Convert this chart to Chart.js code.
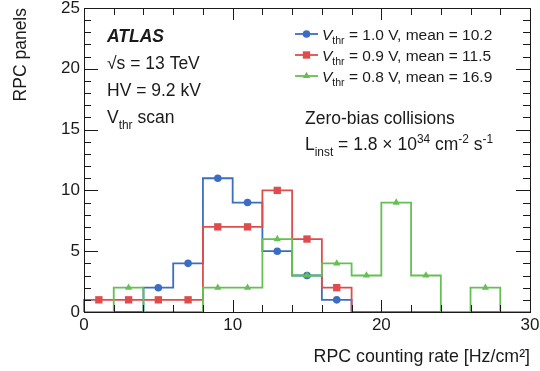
<!DOCTYPE html>
<html>
<head>
<meta charset="utf-8">
<script src="https://cdn.jsdelivr.net/npm/chart.js@4.4.1/dist/chart.umd.min.js"></script>
<style>
  html, body { margin: 0; background: #fff; }
  #wrap { width: 540px; height: 371px; position: relative; }
</style>
</head>
<body>
<div id="wrap"><canvas id="rate"></canvas></div>
<script>
// histogram bins (Hz/cm2), width 2
const binEdges   = [0, 2, 4, 6, 8, 10, 12, 14, 16, 18, 20, 22, 24, 26, 28, 30];
const binCenters = [1, 3, 5, 7, 9, 11, 13, 15, 17, 19, 21, 23, 25, 27, 29];

// RPC panels per bin
const counts10 = [0, 0, 2, 4, 11, 9, 5, 3, 1, 0, 0, 0, 0, 0, 0];   // Vthr = 1.0 V
const counts09 = [1, 1, 1, 1, 7, 7, 10, 6, 2, 0, 0, 0, 0, 0, 0];   // Vthr = 0.9 V
const counts08 = [0, 2, 0, 0, 2, 2, 6, 3, 4, 3, 9, 3, 0, 2, 0];    // Vthr = 0.8 V

const seriesVolts  = ['1.0', '0.9', '0.8'];
const seriesMeans  = ['10.2', '11.5', '16.9'];
const seriesColors = ['#3b6ec2', '#de4d4d', '#64c052'];
const seriesShapes = ['circle', 'rect', 'triangle'];
const seriesSizes  = [3.8, 5.2, 4.2];

const FONT = '"Liberation Sans", Arial, Helvetica, sans-serif';
const INK = '#1a1a1a';

function stepPoints(counts) {
  const pts = [{ x: binEdges[0], y: 0 }];
  counts.forEach((c, i) => pts.push({ x: binEdges[i], y: c }));
  const last = binEdges[binEdges.length - 1];
  pts.push({ x: last, y: counts[counts.length - 1] });
  pts.push({ x: last, y: 0 });
  return pts;
}

function markerPoints(counts) {
  return binCenters.map((x, i) => ({ x, y: counts[i] > 0 ? counts[i] : null }));
}

const allCounts = [counts10, counts09, counts08];
const datasets = [];
allCounts.forEach((counts, k) => {
  // lower order = drawn on top; green on top, blue at the bottom
  const ord = 2 - k;
  datasets.push({
    type: 'line', data: stepPoints(counts), stepped: true,
    borderColor: seriesColors[k], borderWidth: 1.8, pointRadius: 0,
    fill: false, clip: false, order: ord,
  });
  datasets.push({
    type: 'scatter', data: markerPoints(counts), showLine: false,
    pointStyle: seriesShapes[k], pointRadius: seriesSizes[k],
    backgroundColor: seriesColors[k], borderColor: seriesColors[k], borderWidth: 0,
    clip: false, order: ord,
  });
});

function richText(ctx, x, y, parts, size) {
  let cx = x;
  for (const [t, kind] of parts) {
    let fs = size, dy = 0, style = '';
    if (kind === 'sub') { fs = size * 0.68; dy = size * 0.32; }
    if (kind === 'sup') { fs = size * 0.68; dy = -size * 0.42; }
    if (kind === 'i') style = 'italic ';
    if (kind === 'bi') style = 'italic bold ';
    ctx.font = style + fs + 'px ' + FONT;
    ctx.fillText(t, cx, y + dy);
    cx += ctx.measureText(t).width;
  }
}

function drawMarker(ctx, shape, x, y, r, color) {
  ctx.fillStyle = color;
  ctx.beginPath();
  if (shape === 'circle') ctx.arc(x, y, r, 0, Math.PI * 2);
  else if (shape === 'rect') { const s = r * Math.SQRT1_2; ctx.rect(x - s, y - s, 2 * s, 2 * s); }
  else {
    ctx.moveTo(x, y - r);
    ctx.lineTo(x + r * 0.866, y + r * 0.5);
    ctx.lineTo(x - r * 0.866, y + r * 0.5);
    ctx.closePath();
  }
  ctx.fill();
}

// frame with inward ticks on all four sides, ROOT style
const framePlugin = {
  id: 'frame',
  afterDatasetsDraw(chart) {
    const { ctx, chartArea: a, scales: { x, y } } = chart;
    ctx.save();
    ctx.strokeStyle = INK;
    ctx.lineWidth = 1;
    ctx.strokeRect(a.left + 0.5, a.top + 0.5, a.right - a.left, a.bottom - a.top);
    ctx.beginPath();
    for (let v = 0; v <= 25; v++) {
      const py = Math.round(y.getPixelForValue(v)) + 0.5;
      const len = v % 5 === 0 ? 14 : 7;
      ctx.moveTo(a.left, py); ctx.lineTo(a.left + len, py);
      ctx.moveTo(a.right, py); ctx.lineTo(a.right - len, py);
    }
    for (let v = 0; v <= 30; v += 2) {
      const px = Math.round(x.getPixelForValue(v)) + 0.5;
      const len = v % 10 === 0 ? 12 : 7;
      ctx.moveTo(px, a.bottom); ctx.lineTo(px, a.bottom - len);
      ctx.moveTo(px, a.top); ctx.lineTo(px, a.top + len);
    }
    ctx.stroke();
    ctx.restore();
  },
  afterDraw(chart) {
    const { ctx, chartArea: a } = chart;
    ctx.save();
    ctx.fillStyle = INK;
    ctx.textBaseline = 'alphabetic';
    const L = a.left;
    const fs = 17.5;
    richText(ctx, L + 23, a.top + 34, [['ATLAS', 'bi']], fs);
    richText(ctx, L + 23, a.top + 61, [['\u221As = 13 TeV', '']], fs);
    richText(ctx, L + 23, a.top + 88, [['HV = 9.2 kV', '']], fs);
    richText(ctx, L + 23, a.top + 115, [['V', ''], ['thr', 'sub'], [' scan', '']], fs);

    richText(ctx, L + 221, a.top + 116, [['Zero-bias collisions', '']], fs);
    richText(ctx, L + 221, a.top + 142, [['L', ''], ['inst', 'sub'], [' = 1.8 \u00D7 10', ''],
      ['34', 'sup'], [' cm', ''], ['-2', 'sup'], [' s', ''], ['-1', 'sup']], fs);

    // legend
    for (let k = 0; k < 3; k++) {
      const cy = a.top + 26 + k * 21;
      ctx.strokeStyle = seriesColors[k];
      ctx.lineWidth = 1.8;
      ctx.beginPath();
      ctx.moveTo(L + 211, cy); ctx.lineTo(L + 234, cy);
      ctx.stroke();
      drawMarker(ctx, seriesShapes[k], L + 222.5, cy, seriesSizes[k], seriesColors[k]);
      ctx.fillStyle = INK;
      richText(ctx, L + 238, cy + 5.5, [['V', 'i'], ['thr', 'sub'],
        [' = ' + seriesVolts[k] + ' V, mean = ' + seriesMeans[k], '']], 15.5);
    }
    ctx.restore();
  },
};

new Chart(document.getElementById('rate'), {
  data: { datasets },
  plugins: [framePlugin],
  options: {
    responsive: true,
    maintainAspectRatio: false,
    animation: false,
    layout: { padding: { top: 8, right: 10, left: 0, bottom: 0 } },
    plugins: { legend: { display: false }, tooltip: { enabled: false } },
    scales: {
      x: {
        type: 'linear', min: 0, max: 30,
        ticks: { stepSize: 10, color: INK, padding: 3, font: { family: FONT, size: 17 }, maxRotation: 0 },
        grid: { display: false, drawTicks: false },
        border: { display: false },
        title: { display: true, text: 'RPC counting rate [Hz/cm\u00B2]', align: 'end', color: INK,
                 font: { family: FONT, size: 17.8 }, padding: { top: 0, bottom: 3.5 } },
        afterFit(s) { s.height = 59; s.paddingLeft = 0; s.paddingRight = 0; },
      },
      y: {
        type: 'linear', min: 0, max: 25,
        ticks: { stepSize: 5, color: INK, padding: 4, font: { family: FONT, size: 17 } },
        grid: { display: false, drawTicks: false },
        border: { display: false },
        title: { display: true, text: 'RPC panels', align: 'end', color: INK,
                 font: { family: FONT, size: 17.5 }, padding: { top: 11, bottom: 0 } },
        afterFit(s) { s.width = 84; s.paddingTop = 0; s.paddingBottom = 0; },
      },
    },
  },
});
</script>
</body>
</html>
